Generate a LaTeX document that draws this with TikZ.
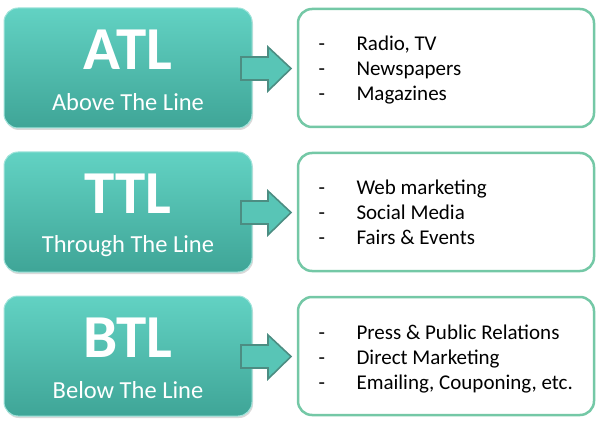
\documentclass[tikz,border=0pt]{standalone}
\usepackage{fontspec}
\setmainfont{Carlito}
\usetikzlibrary{shadows}
\definecolor{tealtop}{HTML}{62D2C3}
\definecolor{tealbot}{HTML}{3FA597}
\definecolor{tealedge}{HTML}{5FB0A2}
\definecolor{rbord}{HTML}{74C8A6}
\tikzset{
 leftbox/.style={rounded corners=14pt, top color=tealtop, bottom color=tealbot, draw=tealtop!60!white, line width=1pt, drop shadow={shadow xshift=1pt,shadow yshift=-2pt,opacity=0.3}},
 rightbox/.style={rounded corners=14pt, fill=white, draw=rbord, line width=2.5pt},
 arrowfill/.style={fill=tealtop!70!tealbot, draw=tealedge!80!black, line width=1.6pt, line join=miter},
 big/.style={text=white, font=\bfseries\fontsize{61}{61}\selectfont},
 small/.style={text=white, font=\fontsize{24.5}{24.5}\selectfont},
 item/.style={anchor=base west, font=\fontsize{21}{25}\selectfont, align=left}
}
\begin{document}
\begin{tikzpicture}[x=1pt,y=-1pt]
\useasboundingbox (0,0) rectangle (612,427);
\foreach \i/\a/\b/\t/\l in {0/ATL/Above The Line/atl/{Radio, TV\\Newspapers\\Magazines},
  1/TTL/Through The Line/ttl/{Web marketing\\Social Media\\Fairs \& Events},
  2/BTL/Below The Line/btl/{Press \& Public Relations\\Direct Marketing\\Emailing, Couponing, etc.}}{
  \pgfmathsetmacro{\yo}{\i*144}
  \begin{scope}[yshift=-\yo pt]
  \path[leftbox] (4,8) rectangle (252,128);
  \node[rightbox, minimum width=296pt, minimum height=118pt] (r\t) at (446,68) {};
  \node[big] (n\t) at (128,50) {\a};
  \node[small] (s\t) at (128,102) {\b};
  \draw[arrowfill] (241,57) -- (268,57) -- (268,47) -- (291,68.5) -- (268,91) -- (268,80) -- (241,80) -- cycle;
  \node[item] (d\t) at (315,101) {-\\-\\-};
  \node[item] (i\t) at (353,101) {\l};
  \end{scope}
}
\end{tikzpicture}
\end{document}
